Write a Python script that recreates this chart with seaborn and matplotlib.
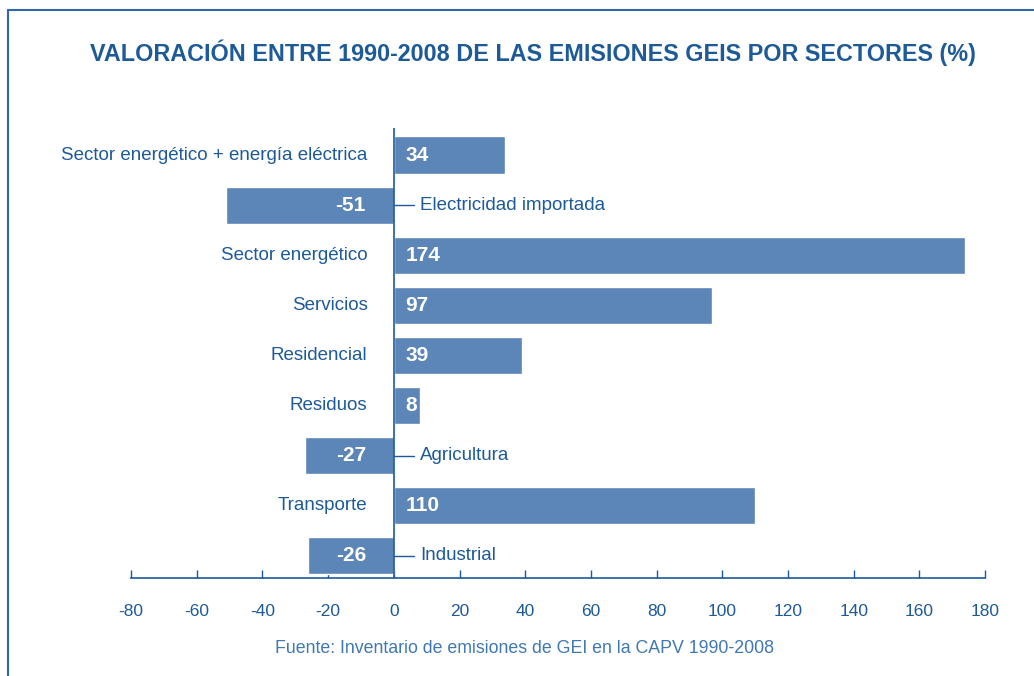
import matplotlib
matplotlib.use("Agg")
import matplotlib.pyplot as plt
import numpy as np
import pandas as pd
import seaborn as sns
from matplotlib.lines import Line2D

sectores = ["Sector energético + energía eléctrica", "Electricidad importada",
            "Sector energético", "Servicios", "Residencial", "Residuos",
            "Agricultura", "Transporte", "Industrial"]
valores = [34, -51, 174, 97, 39, 8, -27, 110, -26]
xticks = [-80, -60, -40, -20, 0, 20, 40, 60, 80, 100, 120, 140, 160, 180]

bar_color = "#5c85b8"
text_color = "#1d5a98"
fuente_color = "#3f78b3"

df = pd.DataFrame({"sector": sectores, "valor": valores})

sns.set_style("white")
plt.rcParams["font.family"] = ["Liberation Sans", "DejaVu Sans"]

fig = plt.figure(figsize=(10.34, 6.76), dpi=100)
ax = fig.add_axes([0.1267, 0.145, 0.826, 0.6657])

sns.barplot(data=df, x="valor", y="sector", color=bar_color, width=0.74,
            saturation=1, orient="h", ax=ax)

ax.set_xlim(-80, 180)
ax.set_ylim(8.44, -0.54)
ax.axvline(0, color=text_color, lw=1.2, zorder=3)

# etiquetas y valores
for i, v in enumerate(valores):
    if v >= 0:
        ax.text(-8, i, sectores[i], ha="right", va="center", fontsize=13.5, color=text_color)
        ax.text(3.5, i, str(v), ha="left", va="center", fontsize=15,
                fontweight="bold", color="white")
    else:
        ax.plot([0, 6], [i, i], color=text_color, lw=1)
        ax.text(8, i, sectores[i], ha="left", va="center", fontsize=13.5, color=text_color)
        ax.text(-8.5, i, str(v), ha="right", va="center", fontsize=15,
                fontweight="bold", color="white")

ax.set_xticks(xticks)
ax.set_xticklabels([str(t) for t in xticks])
ax.set_yticks([])
ax.set_xlabel("")
ax.set_ylabel("")
for s in ["top", "right", "left"]:
    ax.spines[s].set_visible(False)
ax.spines["bottom"].set_color(text_color)
ax.spines["bottom"].set_linewidth(1.2)
ax.tick_params(axis="x", direction="in", length=6, width=1, color=text_color,
               labelcolor=text_color, labelsize=12.5, pad=19, bottom=True)

fig.text(0.515, 0.9216, "VALORACIÓN ENTRE 1990-2008 DE LAS EMISIONES GEIS POR SECTORES (%)",
         ha="center", va="center", fontsize=16.8, fontweight="bold", color=text_color)
fig.text(0.507, 0.041, "Fuente: Inventario de emisiones de GEI en la CAPV 1990-2008",
         ha="center", va="center", fontsize=12.8, color=fuente_color)

# marco
fig.add_artist(Line2D([0.0077, 1.0], [0.985, 0.985], color="#2f68a5", lw=1.5))
fig.add_artist(Line2D([0.0077, 0.0077], [0.0, 0.985], color="#2f68a5", lw=1.5))

fig.savefig("out.png", dpi=100)
